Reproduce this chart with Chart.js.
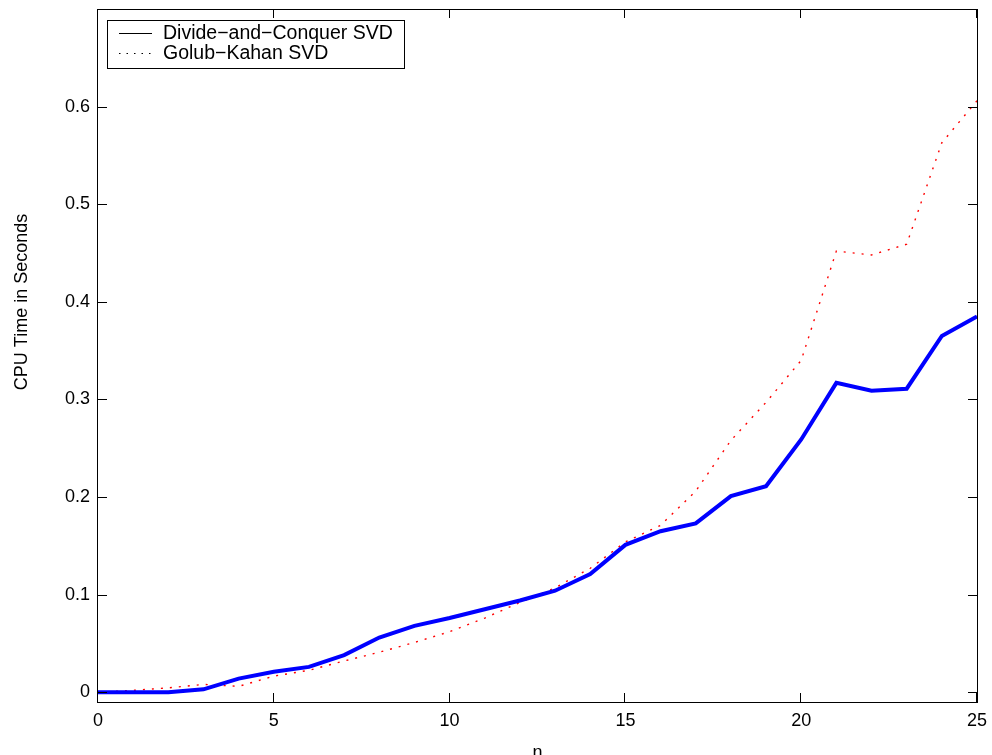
<!DOCTYPE html>
<html>
<head>
<meta charset="utf-8">
<script src="https://cdn.jsdelivr.net/npm/chart.js@4"></script>
<style>
html, body { margin: 0; padding: 0; background: #fff; }
</style>
</head>
<body>
<canvas id="svdChart" width="992" height="755"></canvas>
<script>
// problem size n and CPU time (s) for the two SVD methods
var nValues = [0, 1, 2, 3, 4, 5, 6, 7, 8, 9, 10, 11, 12, 13, 14, 15, 16, 17, 18, 19, 20, 21, 22, 23, 24, 25];
var divideConquer = [0, 0, 0, 0.003, 0.014, 0.021, 0.026, 0.038, 0.056, 0.068, 0.076, 0.085, 0.094, 0.104, 0.121, 0.151, 0.165, 0.173, 0.201, 0.211, 0.259, 0.317, 0.309, 0.311, 0.365, 0.385];
var golubKahan = [0, 0.002, 0.0045, 0.008, 0.006, 0.0165, 0.0225, 0.032, 0.041, 0.051, 0.062, 0.076, 0.092, 0.107, 0.127, 0.154, 0.171, 0.206, 0.258, 0.297, 0.340, 0.452, 0.448, 0.459, 0.563, 0.606];
var xTicks = [0, 5, 10, 15, 20, 25];
var yTicks = [0, 0.1, 0.2, 0.3, 0.4, 0.5, 0.6];
var seriesNames = ['Divide\u2212and\u2212Conquer SVD', 'Golub\u2212Kahan SVD'];

var fontFamily = "'Liberation Sans', Arial, Helvetica, sans-serif";

function toPoints(ys) {
    return nValues.map(function (n, i) { return { x: n, y: ys[i] }; });
}

// box around the axes with inward ticks, like matlab
var framePlugin = {
    id: 'frame',
    afterDatasetsDraw: function (chart) {
        var a = chart.chartArea;
        var ctx = chart.ctx;
        var xs = chart.scales.x, ys = chart.scales.y;
        var len = 9;
        ctx.save();
        ctx.strokeStyle = '#000';
        ctx.lineWidth = 1;
        ctx.strokeRect(a.left - 0.5, a.top + 0.5, a.right - a.left + 1, a.bottom - a.top);
        ctx.beginPath();
        xTicks.forEach(function (v) {
            var px = Math.round(xs.getPixelForValue(v)) - 0.5;
            ctx.moveTo(px, a.bottom); ctx.lineTo(px, a.bottom - len);
            ctx.moveTo(px, a.top); ctx.lineTo(px, a.top + len);
        });
        yTicks.forEach(function (v) {
            var py = Math.round(ys.getPixelForValue(v)) + 0.5;
            ctx.moveTo(a.left, py); ctx.lineTo(a.left + len, py);
            ctx.moveTo(a.right, py); ctx.lineTo(a.right - len, py);
        });
        ctx.stroke();

        // y label, sits a bit above the middle in the original
        ctx.fillStyle = '#000';
        ctx.font = '18px ' + fontFamily;
        ctx.textAlign = 'center';
        ctx.textBaseline = 'middle';
        ctx.translate(22, 302);
        ctx.rotate(-Math.PI / 2);
        ctx.fillText('CPU Time in Seconds', 0, 0);
        ctx.restore();
    },
    afterDraw: function (chart) {
        var ctx = chart.ctx;
        ctx.save();
        ctx.fillStyle = '#fff';
        ctx.fillRect(107.5, 20.5, 297, 48);
        ctx.strokeStyle = '#000';
        ctx.lineWidth = 1;
        ctx.strokeRect(107.5, 20.5, 297, 48);

        ctx.beginPath();
        ctx.moveTo(119, 33.5); ctx.lineTo(152, 33.5);
        ctx.stroke();
        ctx.setLineDash([1.5, 6]);
        ctx.beginPath();
        ctx.moveTo(119, 53.5); ctx.lineTo(152, 53.5);
        ctx.stroke();
        ctx.setLineDash([]);

        ctx.fillStyle = '#000';
        ctx.font = '19.5px ' + fontFamily;
        ctx.textAlign = 'left';
        ctx.textBaseline = 'middle';
        ctx.fillText(seriesNames[0], 163, 34);
        ctx.fillText(seriesNames[1], 163, 54);
        ctx.restore();
    }
};

var ctx = document.getElementById('svdChart');
var chart = new Chart(ctx, {
    type: 'line',
    data: {
        datasets: [{
            label: seriesNames[0],
            data: toPoints(divideConquer),
            borderColor: '#0000ff',
            backgroundColor: 'transparent',
            borderWidth: 4,
            pointRadius: 0,
            tension: 0
        }, {
            label: seriesNames[1],
            data: toPoints(golubKahan),
            borderColor: '#ff0000',
            backgroundColor: 'transparent',
            borderWidth: 1.4,
            borderDash: [2, 7],
            pointRadius: 0,
            tension: 0
        }]
    },
    options: {
        responsive: false,
        animation: false,
        layout: { padding: { left: 0, right: 15, top: 9, bottom: 0 } },
        plugins: {
            legend: { display: false },
            tooltip: { enabled: false }
        },
        scales: {
            x: {
                type: 'linear',
                min: 0,
                max: 25,
                afterBuildTicks: function (s) { s.ticks = xTicks.map(function (v) { return { value: v }; }); },
                afterFit: function (s) {
                    s.height = 53;
                    s.paddingLeft = 0;
                    s.paddingRight = 0;
                },
                grid: { display: false, drawTicks: false },
                border: { display: false },
                ticks: { padding: 8, color: '#000', maxRotation: 0, font: { size: 18, family: fontFamily } },
                title: {
                    display: true,
                    text: 'n',
                    color: '#000',
                    font: { size: 18, family: fontFamily },
                    padding: { top: 0, bottom: -9 }
                }
            },
            y: {
                min: -0.01,
                max: 0.7,
                afterBuildTicks: function (s) { s.ticks = yTicks.map(function (v) { return { value: v }; }); },
                afterFit: function (s) {
                    s.width = 98;
                    s.paddingTop = 0;
                    s.paddingBottom = 0;
                },
                grid: { display: false, drawTicks: false },
                border: { display: false },
                ticks: {
                    padding: 8,
                    color: '#000',
                    font: { size: 18, family: fontFamily },
                    callback: function (v) { return v === 0 ? '0' : v.toFixed(1); }
                }
            }
        }
    },
    plugins: [framePlugin]
});
</script>
</body>
</html>
